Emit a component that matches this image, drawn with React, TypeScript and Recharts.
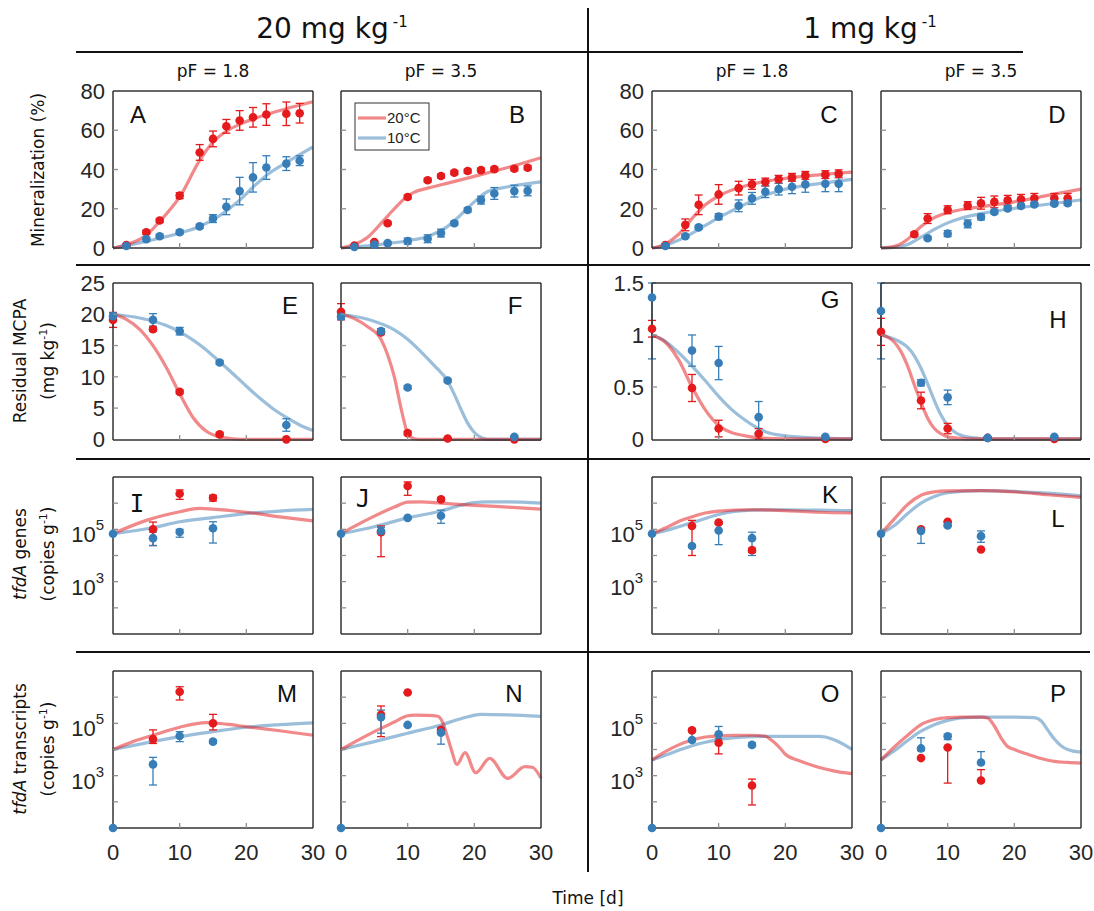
import React from "react";
import { ComposedChart, Line, Scatter, XAxis, YAxis, ErrorBar } from "recharts";

const RED = "#e41a1c";
const BLUE = "#377eb8";
const TICK = "#8f8f8f";
const BOX = "#333333";
const NUM_FONT = "'Liberation Sans', Arial, sans-serif";
const TXT_FONT = "'DejaVu Sans', Verdana, sans-serif";

// axes
const xTicks = [0, 10, 20, 30];
const minTicks = [0, 20, 40, 60, 80];
const mcpaHighTicks = [0, 5, 10, 15, 20, 25];
const mcpaLowTicks = [0, 0.5, 1, 1.5];
const logTicks = [1e1, 1e2, 1e3, 1e4, 1e5, 1e6, 1e7];
const logLabelled = [1e3, 1e5];

// ---- Mineralization (%) ----
const minDays = [2, 5, 7, 10, 13, 15, 17, 19, 21, 23, 26, 28];

const aRed = [1.5, 8, 14, 26.7, 48.7, 55.6, 62, 65, 66.6, 68, 68.4, 68.7];
const aRedErr = [0.5, 1, 1, 1.5, 4, 4, 3.5, 5, 5, 5.5, 6, 5];
const aBlue = [1, 4.5, 6, 8, 11, 15, 21, 29, 36, 41, 43, 44.5];
const aBlueErr = [0.5, 1, 1, 1, 1, 2, 4, 7, 7.5, 6, 3.5, 2.5];
const aRedFitDays = [0, 2, 5, 7, 10, 13, 15, 17, 19, 23, 26, 30];
const aRedFit = [0, 1.7, 6.5, 13.5, 26, 44.6, 54, 59.5, 63, 68, 71, 74.5];
const aBlueFitDays = [0, 5, 10, 13, 16, 19, 21, 23, 26, 30];
const aBlueFit = [0, 3.4, 7.6, 11, 16.5, 24.4, 31, 37, 43.5, 51.5];

const bRed = [1.2, 3, 12.6, 26, 34.5, 36.7, 38.4, 39.2, 39.7, 40.2, 40.4, 40.9];
const bRedErr = [0.5, 0.5, 0.8, 1, 1, 1, 1, 1, 1, 1, 1, 1];
const bBlue = [0.5, 1.7, 2.5, 3.5, 4.7, 7.6, 12.6, 19.4, 24.4, 27.8, 29, 29.1];
const bBlueErr = [0.5, 1, 0.8, 1.5, 2, 2, 1, 1, 2, 3, 3, 2.5];
const bRedFitDays = [0, 2, 4, 6, 8, 10, 11, 13, 15, 20, 25, 30];
const bRedFit = [0, 1.8, 5.5, 12.5, 20, 26.5, 28.5, 30.5, 32.2, 36.5, 41, 46];
const bBlueFitDays = [0, 5, 10, 13, 16, 18, 20, 22, 24, 30];
const bBlueFit = [0, 1.5, 3.7, 5.9, 11, 17, 23.5, 28.8, 30.5, 33.7];

const cRed = [1.5, 11.8, 22, 27.3, 30.5, 32.4, 33.6, 35, 36, 37, 37.4, 37.8];
const cRedErr = [0.5, 3, 5, 5, 3.5, 2.5, 2, 2, 2, 2, 2, 2];
const cBlue = [1, 6, 10.5, 16, 21.5, 25.3, 28.7, 30, 31.2, 32.4, 32.7, 32.7];
const cBlueErr = [0.5, 0.8, 1, 1.5, 3, 3, 3, 3, 3.5, 4, 4, 4];
const cFitDays = [0, 2, 4, 6, 8, 10, 12, 15, 18, 20, 25, 30];
const cRedFit = [0, 2, 7, 15, 22, 26.5, 29.5, 32.5, 34.5, 35.5, 37.3, 38.7];
const cBlueFit = [0, 1.3, 4, 7.5, 11.5, 15.5, 19, 24, 28, 30, 32.8, 35];

const dRedDays = [5, 7, 10, 13, 15, 17, 19, 21, 23, 26, 28];
const dRed = [7, 15, 19.5, 21.6, 22.8, 23.5, 24.3, 24.8, 25.3, 25.3, 25.3];
const dRedErr = [1, 2.5, 2, 2, 3, 3, 2.5, 2.5, 2.5, 2.5, 2.5];
const dBlueDays = [7, 10, 13, 15, 17, 19, 21, 23, 26, 28];
const dBlue = [5, 7.3, 12.3, 15.8, 18.4, 20.2, 21.4, 22.2, 22.6, 22.8];
const dBlueErr = [0.8, 1.5, 2, 1.5, 1, 1, 1, 1, 1, 1];
const dFitDays = [0, 2, 4, 6, 8, 10, 12, 15, 20, 25, 30];
const dRedFit = [0, 0.8, 4.5, 11, 15.5, 18, 19.5, 21, 23.5, 26.8, 30];
const dBlueFit = [0, 0.3, 1.8, 5.5, 9.5, 12.8, 15.2, 17.5, 20.2, 22.3, 24.5];

// ---- Residual MCPA ----
const mcpaDays = [0, 6, 10, 16, 26];

const eRed = [19.1, 17.6, 7.6, 0.8, 0];
const eRedErr = [1.2, 0.3, 0.3, 0.3, 0.1];
const eBlue = [19.7, 19.1, 17.3, 12.3, 2.3];
const eBlueErr = [0.5, 1, 0.6, 0.3, 1];
const eRedFitDays = [0, 2, 4, 6, 8, 10, 12, 14, 16, 18, 20, 25, 30];
const eRedFit = [20, 19.2, 17.6, 15, 11.5, 7.3, 3.5, 1.3, 0.4, 0.1, 0, 0, 0];
const eBlueFitDays = [0, 4, 8, 10, 14, 16, 18, 20, 22, 24, 26, 28, 30];
const eBlueFit = [20, 19.4, 18.2, 17.2, 14.3, 12.4, 10.5, 8.5, 6.6, 4.9, 3.5, 2.3, 1.4];

const fRed = [20.4, 17.1, 1.0, 0.15, 0];
const fRedErr = [1.3, 0.3, 0.3, 0.1, 0.1];
const fBlue = [19.6, 17.3, 8.3, 9.4, 0.4];
const fBlueErr = [0.4, 0.4, 0.3, 0.3, 0.2];
const fRedFitDays = [0, 2, 4, 6, 7, 8, 9, 10, 11, 12, 30];
const fRedFit = [20, 19.3, 18, 16, 13.5, 10, 5, 1, 0.1, 0, 0];
const fBlueFitDays = [0, 4, 8, 10, 12, 14, 16, 17, 18, 19, 20, 21, 22, 30];
const fBlueFit = [20, 19.2, 17.5, 16, 14, 11.8, 9.3, 7.2, 4.8, 2.6, 1.1, 0.3, 0, 0];

// day-0 blue bars in G and H run past the top of the frame; upper part stops at 1.5
const gRed = [1.06, 0.49, 0.1, 0.05, 0];
const gRedErr = [0.08, 0.13, 0.08, 0.05, 0.01];
const gBlue = [1.36, 0.85, 0.73, 0.21, 0.02];
const gBlueErr = [[0.59, 0.14], 0.15, 0.16, 0.15, 0.01];
const gRedFitDays = [0, 2, 4, 6, 8, 10, 12, 14, 16, 20, 30];
const gRedFit = [1, 0.93, 0.76, 0.5, 0.28, 0.13, 0.06, 0.03, 0.01, 0, 0];
const gBlueFitDays = [0, 2, 4, 6, 8, 10, 12, 14, 16, 18, 20, 24, 30];
const gBlueFit = [1, 0.94, 0.83, 0.7, 0.56, 0.41, 0.28, 0.18, 0.1, 0.05, 0.03, 0.01, 0];

const hRed = [1.03, 0.37, 0.1, 0.01, 0];
const hRedErr = [0.13, 0.08, 0.05, 0.01, 0.01];
const hBlue = [1.23, 0.54, 0.4, 0.01, 0.02];
const hBlueErr = [[0.46, 0.27], 0.03, 0.07, 0.01, 0.01];
const hRedFitDays = [0, 1, 2, 3, 4, 5, 6, 7, 8, 9, 10, 12, 14, 30];
const hRedFit = [1, 0.98, 0.93, 0.84, 0.7, 0.52, 0.35, 0.2, 0.1, 0.05, 0.02, 0.005, 0, 0];
const hBlueFitDays = [0, 2, 4, 5, 6, 7, 8, 9, 10, 11, 12, 14, 16, 30];
const hBlueFit = [1, 0.96, 0.88, 0.8, 0.68, 0.53, 0.37, 0.23, 0.13, 0.07, 0.035, 0.01, 0, 0];

// ---- tfdA genes (copies g-1) ----
const qRedDays = [6, 10, 15];
const qBlueDays = [0, 6, 10, 15];
const fitDays10 = [0, 2, 4, 6, 8, 10, 15, 20, 25, 30];

const iRed = [1e5, 2.3e6, 1.6e6];
const iRedLo = [2.4e4, 1.4e6, 1.2e6];
const iRedHi = [1.9e5, 3.2e6, 2e6];
const iBlue = [6.8e4, 4.6e4, 7.9e4, 1.1e5];
const iBlueLo = [6.8e4, 2.4e4, 5e4, 3e4];
const iBlueHi = [6.8e4, 7.8e4, 1e5, 1.95e5];
const iRedFitDays = [0, 5, 10, 13, 15, 20, 25, 30];
const iRedFit = [6.8e4, 2.2e5, 4.7e5, 6.3e5, 5.9e5, 4.5e5, 3e5, 2.1e5];
const iBlueFitDays = [0, 6, 10, 15, 20, 25, 30];
const iBlueFit = [6.8e4, 1.15e5, 1.95e5, 2.8e5, 4e5, 5e5, 5.75e5];

const jRed = [7.8e4, 4.5e6, 1.4e6];
const jRedLo = [9e3, 2e6, 1.2e6];
const jRedHi = [1.35e5, 6.5e6, 1.6e6];
const jBlue = [6.8e4, 8.7e4, 2.75e5, 3.3e5];
const jBlueLo = [6.8e4, 6.9e4, 2.5e5, 1.7e5];
const jBlueHi = [6.8e4, 1.2e5, 3e5, 5.4e5];
const jRedFitDays = [0, 2, 5, 8, 10, 12, 15, 20, 25, 30];
const jRedFit = [6.8e4, 1.3e5, 3.2e5, 7.1e5, 1.1e6, 1.12e6, 1e6, 8.3e5, 7.1e5, 5.9e5];
const jBlueFitDays = [0, 5, 10, 15, 18, 20, 22, 25, 30];
const jBlueFit = [6.8e4, 1.26e5, 2.75e5, 5e5, 8.3e5, 1.05e6, 1.12e6, 1.12e6, 1e6];

const kRed = [1.35e5, 1.8e5, 1.6e4];
const kRedLo = [1e4, 1.6e5, 1.3e4];
const kRedHi = [2.2e5, 2e5, 1.9e4];
const kBlue = [6.8e4, 2.3e4, 9e4, 4.6e4];
const kBlueLo = [6.8e4, 2e4, 2.6e4, 1e4];
const kBlueHi = [6.8e4, 2.6e4, 1.65e5, 7.8e4];
const kRedFit = [6.8e4, 1.12e5, 2e5, 3e5, 4.2e5, 5e5, 5.6e5, 5.2e5, 4.5e5, 4.2e5];
const kBlueFit = [6.8e4, 8.9e4, 1.26e5, 1.8e5, 2.6e5, 3.7e5, 5.4e5, 5.6e5, 5.4e5, 5.2e5];

const lRed = [1e5, 1.95e5, 1.7e4];
const lRedLo = [1e5, 1.95e5, 1.7e4];
const lRedHi = [1e5, 1.95e5, 1.7e4];
const lBlue = [6.8e4, 8.7e4, 1.4e5, 5.5e4];
const lBlueLo = [6.8e4, 2.9e4, 1.3e5, 3.2e4];
const lBlueHi = [6.8e4, 1.1e5, 1.5e5, 8.7e4];
const lRedFit = [6.8e4, 2.5e5, 8.9e5, 2e6, 2.7e6, 2.95e6, 3e6, 2.7e6, 2.1e6, 1.66e6];
const lBlueFit = [6.8e4, 1.4e5, 4e5, 1e6, 1.8e6, 2.5e6, 3e6, 2.8e6, 2.4e6, 1.9e6];

// ---- tfdA transcripts (copies g-1) ----
const mRed = [2.5e4, 1.6e6, 1e5];
const mRedLo = [1.7e4, 7.8e5, 5.6e4];
const mRedHi = [5.6e4, 2.5e6, 2.2e5];
const mBlue = [10, 2.7e3, 3.3e4, 2e4];
const mBlueLo = [10, 4.4e2, 2e4, 1.7e4];
const mBlueHi = [10, 5e3, 4.8e4, 2.3e4];
const mRedFitDays = [0, 3, 6, 10, 14, 17, 20, 25, 30];
const mRedFit = [1e4, 2e4, 3.5e4, 7.1e4, 1.07e5, 9.3e4, 7.4e4, 5.2e4, 3.5e4];
const mBlueFitDays = [0, 5, 10, 15, 20, 25, 30];
const mBlueFit = [1e4, 1.8e4, 3.1e4, 4.8e4, 7.1e4, 8.9e4, 1.05e5];

const nRed = [2.1e5, 1.5e6, 5.6e4];
const nRedLo = [3.1e4, 1.5e6, 5e4];
const nRedHi = [4.6e5, 1.5e6, 6.2e4];
const nBlue = [10, 1.7e5, 8.7e4, 4.4e4];
const nBlueLo = [10, 4.2e4, 8e4, 1.6e4];
const nBlueHi = [10, 3.2e5, 9.5e4, 7.1e4];
const nRedFitDays = [0, 5, 8, 10, 11, 13, 14.5, 15.2, 15.8, 16.5, 17.4, 18.6, 20.2, 22.3, 25, 27.6, 28.7, 30];
const nRedFit = [1e4, 4.8e4, 1.12e5, 1.95e5, 2.05e5, 2e5, 1.86e5, 1.15e5, 4.2e4, 1.1e4, 2.7e3, 7.6e3, 1.3e3, 4.6e3, 7.9e2, 2.2e3, 2.1e3, 7.9e2];
const nBlueFitDays = [0, 5, 10, 15, 18, 21, 25, 30];
const nBlueFit = [1e4, 2e4, 4.2e4, 8.7e4, 1.5e5, 2.2e5, 2.1e5, 1.86e5];

const oRed = [5.4e4, 1.8e4, 4.2e2];
const oRedLo = [4.7e4, 6.8e3, 76];
const oRedHi = [6.2e4, 3.5e4, 7.4e2];
const oBlue = [10, 2.3e4, 3.8e4, 1.5e4];
const oBlueLo = [10, 2e4, 2.6e4, 1.3e4];
const oBlueHi = [10, 5e4, 7.6e4, 1.8e4];
const oRedFitDays = [0, 2, 4, 6, 8, 10, 12, 15, 17, 18, 19, 20, 22, 24, 26, 28, 30];
const oRedFit = [4e3, 8.3e3, 1.5e4, 2.3e4, 3e4, 3.3e4, 3.5e4, 3.5e4, 3.2e4, 2.2e4, 1.3e4, 6.6e3, 3.8e3, 2.5e3, 1.8e3, 1.4e3, 1.2e3];
const oBlueFitDays = [0, 2, 4, 6, 8, 10, 12, 15, 20, 25, 26, 27, 28.5, 30];
const oBlueFit = [4e3, 6e3, 9.3e3, 1.4e4, 1.9e4, 2.4e4, 2.8e4, 3.1e4, 3.2e4, 3.2e4, 3e4, 2.5e4, 1.7e4, 1e4];

const pRed = [4.7e3, 1.2e4, 6.5e2];
const pRedLo = [4.7e3, 5.2e2, 6.5e2];
const pRedHi = [4.7e3, 1.2e4, 1.7e3];
const pBlue = [10, 1.1e4, 3.2e4, 3.2e3];
const pBlueLo = [10, 9e3, 2.4e4, 2.8e3];
const pBlueHi = [10, 2.8e4, 3.8e4, 8.3e3];
const pRedFitDays = [0, 2, 4, 6, 8, 10, 12, 15, 16, 17, 18, 19, 20, 22, 24, 26, 28, 30];
const pRedFit = [4e3, 1.26e4, 3.5e4, 8.9e4, 1.4e5, 1.66e5, 1.74e5, 1.74e5, 1.6e5, 7.9e4, 2.8e4, 1.3e4, 1e4, 6.6e3, 4.5e3, 3.5e3, 3.2e3, 3e3];
const pBlueFitDays = [0, 2, 4, 6, 8, 10, 12, 15, 20, 23, 24, 25, 26, 27, 28, 30];
const pBlueFit = [4e3, 8.9e3, 2.2e4, 5e4, 8.9e4, 1.3e5, 1.6e5, 1.74e5, 1.74e5, 1.66e5, 1.26e5, 5.6e4, 2.5e4, 1.4e4, 1e4, 7.9e3];

type Pt = { x: number; y: number; err: number | number[] };

const linPts = (days: number[], vals: number[], errs: (number | number[])[]): Pt[] =>
  days.map((d, i) => ({ x: d, y: vals[i], err: errs[i] }));
const logPts = (days: number[], vals: number[], lo: number[], hi: number[]): Pt[] =>
  days.map((d, i) => ({ x: d, y: vals[i], err: [vals[i] - lo[i], hi[i] - vals[i]] }));
const curve = (days: number[], vals: number[]) => days.map((d, i) => ({ x: d, y: vals[i] }));

const colLeft = [113, 341, 652, 881];
const rowTop = [91, 283, 477, 671];

const yKinds: Record<string, { domain: number[]; ticks: number[]; log: boolean }> = {
  min: { domain: [0, 80], ticks: minTicks, log: false },
  mcpa20: { domain: [0, 25], ticks: mcpaHighTicks, log: false },
  mcpa1: { domain: [0, 1.5], ticks: mcpaLowTicks, log: false },
  log: { domain: [10, 1e7], ticks: logTicks, log: true },
};

const panels = [
  { id: "A", col: 0, row: 0, kind: "min", at: [138, 114], red: linPts(minDays, aRed, aRedErr), blue: linPts(minDays, aBlue, aBlueErr), redFit: curve(aRedFitDays, aRedFit), blueFit: curve(aBlueFitDays, aBlueFit) },
  { id: "B", col: 1, row: 0, kind: "min", at: [517, 114], red: linPts(minDays, bRed, bRedErr), blue: linPts(minDays, bBlue, bBlueErr), redFit: curve(bRedFitDays, bRedFit), blueFit: curve(bBlueFitDays, bBlueFit) },
  { id: "C", col: 2, row: 0, kind: "min", at: [829, 114], red: linPts(minDays, cRed, cRedErr), blue: linPts(minDays, cBlue, cBlueErr), redFit: curve(cFitDays, cRedFit), blueFit: curve(cFitDays, cBlueFit) },
  { id: "D", col: 3, row: 0, kind: "min", at: [1057, 114], red: linPts(dRedDays, dRed, dRedErr), blue: linPts(dBlueDays, dBlue, dBlueErr), redFit: curve(dFitDays, dRedFit), blueFit: curve(dFitDays, dBlueFit) },
  { id: "E", col: 0, row: 1, kind: "mcpa20", at: [290, 305], red: linPts(mcpaDays, eRed, eRedErr), blue: linPts(mcpaDays, eBlue, eBlueErr), redFit: curve(eRedFitDays, eRedFit), blueFit: curve(eBlueFitDays, eBlueFit) },
  { id: "F", col: 1, row: 1, kind: "mcpa20", at: [515, 305], red: linPts(mcpaDays, fRed, fRedErr), blue: linPts(mcpaDays, fBlue, fBlueErr), redFit: curve(fRedFitDays, fRedFit), blueFit: curve(fBlueFitDays, fBlueFit) },
  { id: "G", col: 2, row: 1, kind: "mcpa1", at: [830, 299], red: linPts(mcpaDays, gRed, gRedErr), blue: linPts(mcpaDays, gBlue, gBlueErr), redFit: curve(gRedFitDays, gRedFit), blueFit: curve(gBlueFitDays, gBlueFit) },
  { id: "H", col: 3, row: 1, kind: "mcpa1", at: [1058, 319], red: linPts(mcpaDays, hRed, hRedErr), blue: linPts(mcpaDays, hBlue, hBlueErr), redFit: curve(hRedFitDays, hRedFit), blueFit: curve(hBlueFitDays, hBlueFit) },
  { id: "I", col: 0, row: 2, kind: "log", at: [137, 503], red: logPts(qRedDays, iRed, iRedLo, iRedHi), blue: logPts(qBlueDays, iBlue, iBlueLo, iBlueHi), redFit: curve(iRedFitDays, iRedFit), blueFit: curve(iBlueFitDays, iBlueFit) },
  { id: "J", col: 1, row: 2, kind: "log", at: [363, 498], red: logPts(qRedDays, jRed, jRedLo, jRedHi), blue: logPts(qBlueDays, jBlue, jBlueLo, jBlueHi), redFit: curve(jRedFitDays, jRedFit), blueFit: curve(jBlueFitDays, jBlueFit) },
  { id: "K", col: 2, row: 2, kind: "log", at: [830, 494], red: logPts(qRedDays, kRed, kRedLo, kRedHi), blue: logPts(qBlueDays, kBlue, kBlueLo, kBlueHi), redFit: curve(fitDays10, kRedFit), blueFit: curve(fitDays10, kBlueFit) },
  { id: "L", col: 3, row: 2, kind: "log", at: [1058, 518], red: logPts(qRedDays, lRed, lRedLo, lRedHi), blue: logPts(qBlueDays, lBlue, lBlueLo, lBlueHi), redFit: curve(fitDays10, lRedFit), blueFit: curve(fitDays10, lBlueFit) },
  { id: "M", col: 0, row: 3, kind: "log", at: [287, 693], red: logPts(qRedDays, mRed, mRedLo, mRedHi), blue: logPts(qBlueDays, mBlue, mBlueLo, mBlueHi), redFit: curve(mRedFitDays, mRedFit), blueFit: curve(mBlueFitDays, mBlueFit) },
  { id: "N", col: 1, row: 3, kind: "log", at: [514, 693], red: logPts(qRedDays, nRed, nRedLo, nRedHi), blue: logPts(qBlueDays, nBlue, nBlueLo, nBlueHi), redFit: curve(nRedFitDays, nRedFit), blueFit: curve(nBlueFitDays, nBlueFit) },
  { id: "O", col: 2, row: 3, kind: "log", at: [830, 693], red: logPts(qRedDays, oRed, oRedLo, oRedHi), blue: logPts(qBlueDays, oBlue, oBlueLo, oBlueHi), redFit: curve(oRedFitDays, oRedFit), blueFit: curve(oBlueFitDays, oBlueFit) },
  { id: "P", col: 3, row: 3, kind: "log", at: [1058, 693], red: logPts(qRedDays, pRed, pRedLo, pRedHi), blue: logPts(qBlueDays, pBlue, pBlueLo, pBlueHi), redFit: curve(pRedFitDays, pRedFit), blueFit: curve(pBlueFitDays, pBlueFit) },
];

const W = 200;
const H = 157;
const ML = 60;
const MT = 16;
const MR = 22;
const MB = 44;
const AX = 1; // thin axis band so recharts draws the axis

function Panel({ p }: { p: any }) {
  const yk = yKinds[p.kind];
  const showY = p.col === 0 || p.col === 2;
  const showX = p.row === 3;
  const [y0, y1] = yk.domain;

  const bottomTick = (t: any) => (
    <g>
      {t.payload.value > 0 && t.payload.value < 30 && (
        <line x1={t.x} x2={t.x} y1={t.y} y2={t.y - 5} stroke={TICK} strokeWidth={1.3} />
      )}
      {showX && (
        <text x={t.x} y={t.y + 32} textAnchor="middle" fontSize={22} fill="#262626" fontFamily={NUM_FONT}>
          {t.payload.value}
        </text>
      )}
    </g>
  );
  const topTick = (t: any) =>
    t.payload.value > 0 && t.payload.value < 30 ? (
      <line x1={t.x} x2={t.x} y1={t.y} y2={t.y + 5} stroke={TICK} strokeWidth={1.3} />
    ) : (
      <g />
    );
  const leftTick = (t: any) => {
    const v = t.payload.value;
    const inner = v > y0 && v < y1;
    let label: any = null;
    if (showY) {
      if (yk.log) {
        if (logLabelled.includes(v)) {
          label = (
            <text x={t.x - 9} y={t.y + 13} textAnchor="end" fontSize={22} fill="#262626" fontFamily={NUM_FONT}>
              10
              <tspan fontSize={15} dy={-12}>
                {Math.round(Math.log10(v))}
              </tspan>
            </text>
          );
        }
      } else {
        label = (
          <text x={t.x - 8} y={t.y + 8} textAnchor="end" fontSize={22} fill="#262626" fontFamily={NUM_FONT}>
            {String(v)}
          </text>
        );
      }
    }
    return (
      <g>
        {inner && <line x1={t.x} x2={t.x + 5} y1={t.y} y2={t.y} stroke={TICK} strokeWidth={1.3} />}
        {label}
      </g>
    );
  };
  const rightTick = (t: any) => {
    const v = t.payload.value;
    return v > y0 && v < y1 ? (
      <line x1={t.x} x2={t.x - 5} y1={t.y} y2={t.y} stroke={TICK} strokeWidth={1.3} />
    ) : (
      <g />
    );
  };

  const axisLine = { stroke: BOX, strokeWidth: 1.5 };
  const scale = yk.log ? "log" : "linear";

  return (
    <div style={{ position: "absolute", left: colLeft[p.col] - ML, top: rowTop[p.row] - MT }}>
      <ComposedChart
        width={W + ML + MR}
        height={H + MT + MB}
        margin={{ top: MT - AX, right: MR - AX, bottom: MB - AX, left: ML - AX }}
      >
        <XAxis dataKey="x" type="number" domain={[0, 30]} ticks={xTicks} interval={0} height={AX}
          tickSize={0} tickMargin={0} tickLine={false} axisLine={axisLine} tick={bottomTick} />
        <XAxis xAxisId="t" orientation="top" dataKey="x" type="number" domain={[0, 30]} ticks={xTicks} interval={0}
          height={AX} tickSize={0} tickMargin={0} tickLine={false} axisLine={axisLine} tick={topTick} />
        <YAxis type="number" scale={scale} domain={yk.domain} ticks={yk.ticks} interval={0} width={AX}
          tickSize={0} tickMargin={0} tickLine={false} axisLine={axisLine} tick={leftTick} />
        <YAxis yAxisId="r" orientation="right" type="number" scale={scale} domain={yk.domain} ticks={yk.ticks}
          interval={0} width={AX} tickSize={0} tickMargin={0} tickLine={false} axisLine={axisLine} tick={rightTick} />
        <Line data={p.blueFit} dataKey="y" type="monotone" stroke={BLUE} strokeOpacity={0.5} strokeWidth={3.2}
          dot={false} activeDot={false} isAnimationActive={false} />
        <Line data={p.redFit} dataKey="y" type="monotone" stroke={RED} strokeOpacity={0.52} strokeWidth={3.2}
          dot={false} activeDot={false} isAnimationActive={false} />
        <Scatter data={p.red} dataKey="y" isAnimationActive={false}
          shape={(s: any) => <circle cx={s.cx} cy={s.cy} r={4.3} fill={RED} />}>
          <ErrorBar dataKey="err" direction="y" width={4} stroke={RED} strokeWidth={1.3} />
        </Scatter>
        <Scatter data={p.blue} dataKey="y" isAnimationActive={false}
          shape={(s: any) => <circle cx={s.cx} cy={s.cy} r={4.3} fill={BLUE} />}>
          <ErrorBar dataKey="err" direction="y" width={4} stroke={BLUE} strokeWidth={1.3} />
        </Scatter>
      </ComposedChart>
    </div>
  );
}

export default function App() {
  const sup = (s: string) => (
    <tspan fontSize={11} dy={-7}>
      {s}
    </tspan>
  );
  return (
    <div style={{ position: "absolute", left: 0, top: 0, width: 1094, height: 911, background: "#fff" }}>
      {panels.map((p) => (
        <Panel key={p.id} p={p} />
      ))}
      <svg width={1094} height={911} style={{ position: "absolute", left: 0, top: 0, pointerEvents: "none" }}>
        {/* group headers */}
        <text x={332} y={38} textAnchor="middle" fontSize={28} fontFamily={TXT_FONT} fill="#111">
          20 mg kg
          <tspan dx={4} dy={-11} fontSize={15}>-1</tspan>
        </text>
        <text x={870} y={38} textAnchor="middle" fontSize={28} fontFamily={TXT_FONT} fill="#111">
          1 mg kg
          <tspan dx={4} dy={-11} fontSize={15}>-1</tspan>
        </text>
        <line x1={76} x2={1023} y1={52} y2={52} stroke="#111" strokeWidth={2} />
        <line x1={588} x2={588} y1={8} y2={872} stroke="#111" strokeWidth={2} />
        {[265, 459, 652].map((y) => (
          <line key={y} x1={76} x2={1090} y1={y} y2={y} stroke="#111" strokeWidth={2} />
        ))}
        {["pF = 1.8", "pF = 3.5", "pF = 1.8", "pF = 3.5"].map((t, i) => (
          <text key={i} x={colLeft[i] + 100} y={77} textAnchor="middle" fontSize={17} fontFamily={TXT_FONT} fill="#111">
            {t}
          </text>
        ))}

        {/* row titles */}
        <g transform="translate(38,170) rotate(-90)">
          <text textAnchor="middle" dominantBaseline="central" fontSize={17} fontFamily={TXT_FONT} fill="#111">
            Mineralization (%)
          </text>
        </g>
        <g transform="translate(20,361) rotate(-90)">
          <text textAnchor="middle" dominantBaseline="central" fontSize={17} fontFamily={TXT_FONT} fill="#111">
            Residual MCPA
          </text>
        </g>
        <g transform="translate(48,361) rotate(-90)">
          <text textAnchor="middle" y={6} fontSize={17} fontFamily={TXT_FONT} fill="#111">
            (mg kg{sup("-1")}
            <tspan dy={7}>)</tspan>
          </text>
        </g>
        <g transform="translate(20,554) rotate(-90)">
          <text textAnchor="middle" dominantBaseline="central" fontSize={17} fontFamily={TXT_FONT} fill="#111">
            <tspan fontStyle="italic">tfdA</tspan> genes
          </text>
        </g>
        <g transform="translate(48,554) rotate(-90)">
          <text textAnchor="middle" y={6} fontSize={17} fontFamily={TXT_FONT} fill="#111">
            (copies g{sup("-1")}
            <tspan dy={7}>)</tspan>
          </text>
        </g>
        <g transform="translate(20,749) rotate(-90)">
          <text textAnchor="middle" dominantBaseline="central" fontSize={17} fontFamily={TXT_FONT} fill="#111">
            <tspan fontStyle="italic">tfdA</tspan> transcripts
          </text>
        </g>
        <g transform="translate(48,749) rotate(-90)">
          <text textAnchor="middle" y={6} fontSize={17} fontFamily={TXT_FONT} fill="#111">
            (copies g{sup("-1")}
            <tspan dy={7}>)</tspan>
          </text>
        </g>
        <text x={588} y={904} textAnchor="middle" fontSize={17} fontFamily={TXT_FONT} fill="#111">
          Time [d]
        </text>

        {/* panel letters */}
        {panels.map((p) => (
          <text key={p.id} x={p.at[0]} y={p.at[1] + 8.5} textAnchor="middle" fontSize={24}
            fontFamily={p.id === "I" || p.id === "J" ? "'DejaVu Sans Mono', monospace" : NUM_FONT} fill="#111">
            {p.id}
          </text>
        ))}

        {/* legend in panel B */}
        <rect x={355} y={103} width={74} height={47} fill="#fff" stroke={BOX} strokeWidth={1} />
        <line x1={358} x2={386} y1={118} y2={118} stroke={RED} strokeOpacity={0.52} strokeWidth={3.2} />
        <line x1={358} x2={386} y1={138} y2={138} stroke={BLUE} strokeOpacity={0.5} strokeWidth={3.2} />
        <text x={387} y={123} fontSize={15} fontFamily={NUM_FONT} fill="#222">20°C</text>
        <text x={387} y={143} fontSize={15} fontFamily={NUM_FONT} fill="#222">10°C</text>
      </svg>
    </div>
  );
}
